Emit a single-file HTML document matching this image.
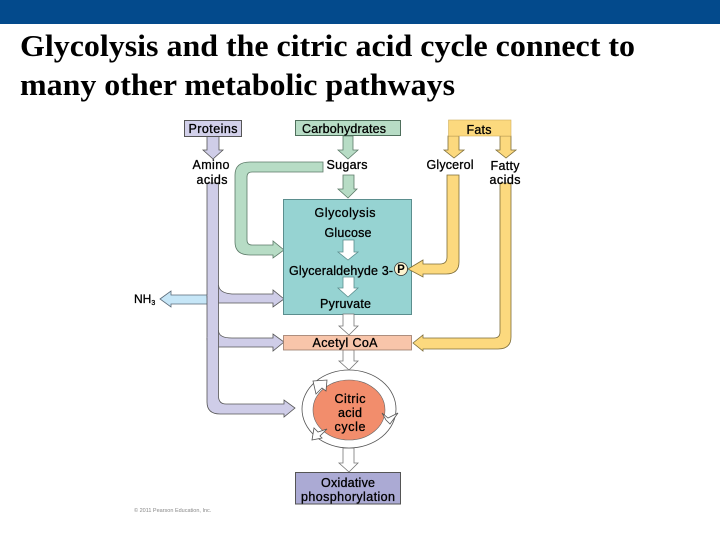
<!DOCTYPE html>
<html>
<head>
<meta charset="utf-8">
<style>
html,body{margin:0;padding:0;background:#fff;width:720px;height:540px;overflow:hidden}
svg{display:block}
.t{font-family:"Liberation Serif",serif;font-weight:bold;font-size:30.5px;fill:#000}
.l{font-family:"Liberation Sans",sans-serif;font-size:12.5px;fill:#000;text-anchor:middle;stroke:#000;stroke-width:.3}
</style>
</head>
<body>
<svg width="720" height="540" viewBox="0 0 720 540" xmlns="http://www.w3.org/2000/svg">
<rect x="0" y="0" width="720" height="24" fill="#034a8c"/>
<text class="t" x="20" y="56" textLength="615" lengthAdjust="spacingAndGlyphs">Glycolysis and the citric acid cycle connect to</text>
<text class="t" x="20" y="95" textLength="435" lengthAdjust="spacingAndGlyphs">many other metabolic pathways</text>

<!-- light blue NH3 arrow -->
<path d="M160 299 L171 291 V295 H208 V304 H171 V307 Z" fill="#c6e6f7" stroke="#5a6a78" stroke-width=".8"/>

<!-- purple trunk -->
<path d="M207 183 H218.5 V285 Q219 293 232 294 H273 V290 L284 299 L273 307 V303 H218 Q207 303 207 296 Z" fill="#cfcde8" stroke="#555" stroke-width=".8"/>
<path d="M207 296 V338 Q207 347 218 347 H273 V351 L284 342 L273 334 V338 H232 Q219 338 218.5 331 V285 M207 296" fill="#cfcde8" stroke="#555" stroke-width=".8"/>
<path d="M207 338 V402 Q207 414 220 414 H284 V417 L295 408 L284 400 V404 H226 Q218.5 404 218.5 396 V330" fill="#cfcde8" stroke="#555" stroke-width=".8"/>
<rect x="207.6" y="290" width="10.4" height="60" fill="#cfcde8"/>
<rect x="207.6" y="335" width="10.4" height="65" fill="#cfcde8"/>

<!-- Proteins -->
<path d="M207 136 H219 V150 H223 L213 159 L203 150 H207 Z" fill="#cfcde8" stroke="#555" stroke-width=".8"/>
<rect x="184.5" y="120.5" width="57" height="16" fill="#d2d0ea" stroke="#555"/>

<!-- Green -->
<path d="M323 162 H250 Q235 162 235 175 V242 Q235 255 250 255 H273 V258 L284 250 L273 241 V245 H252 Q247 245 247 240 V177 Q247 172 252 172 H323 Z" fill="#b7dcc5" stroke="#5c7a68" stroke-width=".8"/>
<path d="M343 136 H353 V150 H358 L348 159 L338 150 H343 Z" fill="#b7dcc5" stroke="#5c7a68" stroke-width=".8"/>
<path d="M343 175 H354 V189 H357 L348 198 L338 189 H343 Z" fill="#b7dcc5" stroke="#5c7a68" stroke-width=".8"/>
<rect x="295.5" y="120.5" width="105" height="15" fill="#b7dcc5" stroke="#4f6f5c"/>

<!-- Teal box -->
<rect x="283.5" y="199.5" width="128" height="115" fill="#96d3d2" stroke="#5b8e8e"/>

<!-- white arrows inside -->
<path d="M343 240 H354 V252 H358 L348 260 L338 252 H343 Z" fill="#fff" stroke="#5b8e8e" stroke-width=".8"/>
<path d="M343 277 H354 V288 H358 L348 297 L338 288 H343 Z" fill="#fff" stroke="#5b8e8e" stroke-width=".8"/>

<!-- Yellow -->
<path d="M448 136 H459 V150 H464 L454 158 L444 150 H448 Z" fill="#fcd97e" stroke="#7d6d3a" stroke-width=".8"/>
<path d="M500 136 H511 V150 H516 L506 158 L496 150 H500 Z" fill="#fcd97e" stroke="#7d6d3a" stroke-width=".8"/>
<rect x="448.5" y="120" width="62.5" height="16" fill="#fcd97e" stroke="#d0b060" stroke-width=".6"/>
<path d="M447 175 H459 V262 Q459 274 446 274 H423 V277 L408 269 L423 260 V264 H440 Q447 264 447 257 Z" fill="#fcd97e" stroke="#7d6d3a" stroke-width=".8"/>
<path d="M500 183 H511 V337 Q511 349 498 349 H423 V351 L413 343 L423 335 V338 H494 Q500 338 500 332 Z" fill="#fcd97e" stroke="#7d6d3a" stroke-width=".8"/>

<!-- P circle -->
<circle cx="401" cy="269" r="6.500" fill="#fdf4cf" stroke="#333" stroke-width=".8"/>

<!-- Down arrows between -->
<path d="M343 314 H354 V326 H358 L349 335 L339 326 H343 Z" fill="#fff" stroke="#777" stroke-width=".8"/>
<path d="M343 350 H354 V361 H358 L349 370 L339 361 H343 Z" fill="#fff" stroke="#777" stroke-width=".8"/>
<path d="M343 448 H354 V463 H358 L349 472 L339 463 H343 Z" fill="#fff" stroke="#777" stroke-width=".8"/>

<!-- Acetyl -->
<rect x="283.5" y="335.5" width="128" height="14.500" fill="#f8c5aa" stroke="#9a7a6a" stroke-width=".8"/>

<!-- Citric ring -->
<ellipse cx="349" cy="409" rx="47" ry="39" fill="#fff" stroke="#555" stroke-width=".8"/>
<ellipse cx="349" cy="410" rx="36" ry="30" fill="#f28d6c" stroke="#666" stroke-width=".6"/>
<path d="M313 381 L327 380 L326 391 L322 388 L316 394 Z" fill="#fff" stroke="#555" stroke-width=".8"/>
<path d="M382 413 L388 418 L398 413 L390 424 L386 420 Z" fill="#fff" stroke="#555" stroke-width=".8"/>
<path d="M312 440 L314 428 L318 432 L327 429 L320 436 L322 438 Z" fill="#fff" stroke="#555" stroke-width=".8"/>

<!-- Oxidative -->
<rect x="295.5" y="472.5" width="105" height="31.500" fill="#abaad4" stroke="#555"/>

<!-- Copyright -->
<text x="134" y="512" font-family="Liberation Sans,sans-serif" font-size="5.500" fill="#888">© 2011 Pearson Education, Inc.</text>

<!-- Labels -->
<text class="l" x="213" y="133" textLength="49">Proteins</text>
<text class="l" x="344" y="133" textLength="84">Carbohydrates</text>
<text class="l" x="479" y="134" textLength="25">Fats</text>
<text class="l" x="211" y="169" textLength="37">Amino</text>
<text class="l" x="212" y="184" textLength="31">acids</text>
<text class="l" x="347" y="169" textLength="41">Sugars</text>
<text class="l" x="450" y="169" textLength="47">Glycerol</text>
<text class="l" x="505" y="170" textLength="29">Fatty</text>
<text class="l" x="505" y="184" textLength="31">acids</text>
<text class="l" x="345" y="217" textLength="61">Glycolysis</text>
<text class="l" x="348" y="237" textLength="47">Glucose</text>
<text class="l" x="341" y="275" textLength="104">Glyceraldehyde 3-</text>
<text x="401" y="273" font-family="Liberation Sans,sans-serif" font-size="11.500" font-weight="bold" text-anchor="middle">P</text>
<text class="l" x="345.500" y="308" textLength="51">Pyruvate</text>
<text class="l" x="345" y="347" textLength="65">Acetyl CoA</text>
<text class="l" x="350" y="403" textLength="31">Citric</text>
<text class="l" x="350" y="417" textLength="24">acid</text>
<text class="l" x="350" y="431" textLength="31">cycle</text>
<text class="l" x="348" y="487" textLength="54">Oxidative</text>
<text class="l" x="348" y="501" textLength="94">phosphorylation</text>
<text x="134" y="303" font-family="Liberation Sans,sans-serif" font-size="12" stroke="#000" stroke-width=".3">NH<tspan font-size="7" dy="2">3</tspan></text>
</svg>
</body>
</html>
